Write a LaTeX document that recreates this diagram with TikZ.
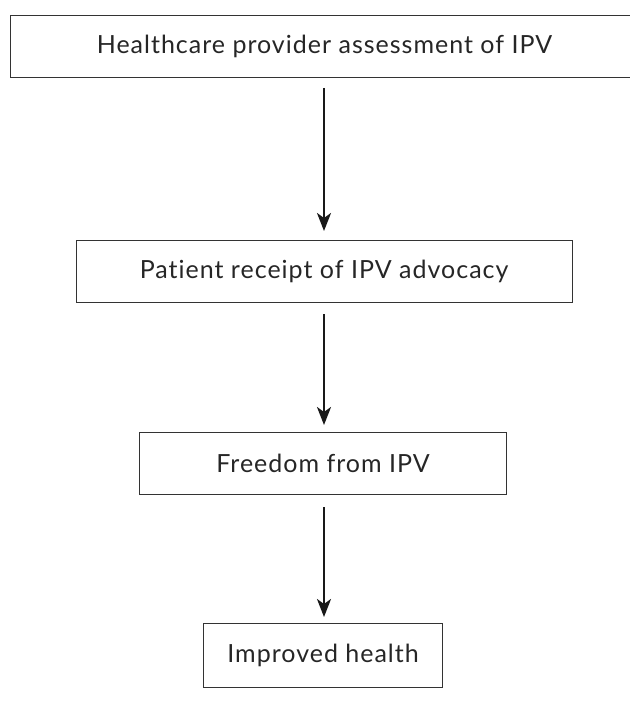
\documentclass[tikz,border=0pt]{standalone}
\usepackage{fontspec}
\setmainfont{Lato}[LetterSpace=4, Ligatures={NoCommon,NoRare}]
\usetikzlibrary{arrows.meta}
\begin{document}
\begin{tikzpicture}[x=1pt,y=-1pt,
  flowbox/.style={draw=black!80, line width=1.2pt, fill=none, inner sep=0pt, anchor=north west},
  flowtext/.style={font=\fontsize{25}{29}\selectfont, text=black!85},
  flowarrow/.style={draw=black!90, line width=2.4pt, -{Stealth[length=18pt,width=14pt,inset=5pt]}}]
  \useasboundingbox (0,0) rectangle (629,706);
  % boxes (pixel coordinates)
  \node[flowbox, minimum width=640pt, minimum height=62pt] (b1) at (10,15) {};
  \node[flowbox, minimum width=496pt, minimum height=62pt] (b2) at (75.5,240) {};
  \node[flowbox, minimum width=367pt, minimum height=62pt] (b3) at (139,432) {};
  \node[flowbox, minimum width=239pt, minimum height=64pt] (b4) at (203,623) {};
  % texts
  \node[flowtext] (t1) at (324.5,46) {Healthcare provider assessment of IPV};
  \node[flowtext] (t2) at (b2.center) {Patient receipt of IPV advocacy};
  \node[flowtext] (t3) at (b3.center) {Freedom from IPV};
  \node[flowtext] (t4) at (b4.center) {Improved health};
  % arrow anchors
  \coordinate (a1s) at (324,88);  \coordinate (a1e) at (324,231);
  \coordinate (a2s) at (324,314); \coordinate (a2e) at (324,425);
  \coordinate (a3s) at (324,507); \coordinate (a3e) at (324,617);
  \draw[flowarrow] (a1s) -- (a1e);
  \draw[flowarrow] (a2s) -- (a2e);
  \draw[flowarrow] (a3s) -- (a3e);
\end{tikzpicture}
\end{document}
